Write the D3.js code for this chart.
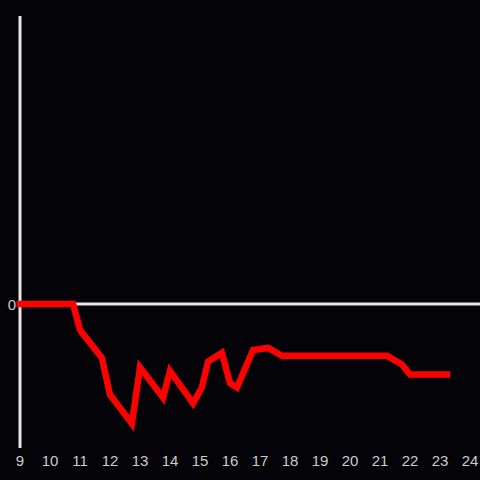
<!DOCTYPE html>
<html><head><meta charset="utf-8">
<script src="https://cdn.jsdelivr.net/npm/d3@7"></script>
<style>html,body{margin:0;padding:0;background:#040307;}svg{display:block;}</style>
</head><body>
<script>
const xs = [9, 10.77, 11.0, 11.73, 12.0, 12.73, 13.0, 13.77, 14.0, 14.77, 15.06, 15.27, 15.73, 16.0, 16.23, 16.77, 17.27, 17.73, 21.23, 21.73, 22.0, 23.23];
const ys = [0, 0, -0.18, -0.375, -0.63, -0.83, -0.44, -0.65, -0.465, -0.69, -0.58, -0.40, -0.34, -0.55, -0.58, -0.32, -0.305, -0.36, -0.36, -0.42, -0.49, -0.49];
const xTicks = [9,10,11,12,13,14,15,16,17,18,19,20,21,22,23,24];
const yTicks = [0];

const W = 480, H = 480;
const svg = d3.select("body").append("svg").attr("width", W).attr("height", H);
svg.append("rect").attr("width", W).attr("height", H).attr("fill", "#040307");

const x = d3.scaleLinear().domain([9, 24]).range([20, 470]);
const y = d3.scaleLinear().domain([-1, 2]).range([448, 16]);

// zero line
svg.append("line").attr("x1", x(9)).attr("x2", 480).attr("y1", y(0)).attr("y2", y(0))
  .attr("stroke", "#e6e6e6").attr("stroke-width", 3);
// vertical axis
svg.append("line").attr("x1", x(9)).attr("x2", x(9)).attr("y1", y(2)).attr("y2", y(-1))
  .attr("stroke", "#e6e6e6").attr("stroke-width", 3);

const data = xs.map((v, i) => [v, ys[i]]);
svg.append("path").datum(data)
  .attr("fill", "none").attr("stroke", "#ff0000").attr("stroke-width", 6.5)
  .attr("stroke-linecap", "square").attr("stroke-linejoin", "miter")
  .attr("d", d3.line().x(d => x(d[0])).y(d => y(d[1])));

svg.selectAll("text.xt").data(xTicks).enter().append("text")
  .attr("class", "xt").attr("x", d => x(d)).attr("y", 466)
  .attr("text-anchor", "middle").attr("fill", "#cccccc")
  .attr("font-family", "Liberation Sans, Arial, sans-serif").attr("font-size", 15)
  .text(d => d);

svg.selectAll("text.yt").data(yTicks).enter().append("text")
  .attr("class", "yt").attr("x", 16).attr("y", y(0) + 5.5)
  .attr("text-anchor", "end").attr("fill", "#cccccc")
  .attr("font-family", "Liberation Sans, Arial, sans-serif").attr("font-size", 15)
  .text(d => d);
</script>
</body></html>
